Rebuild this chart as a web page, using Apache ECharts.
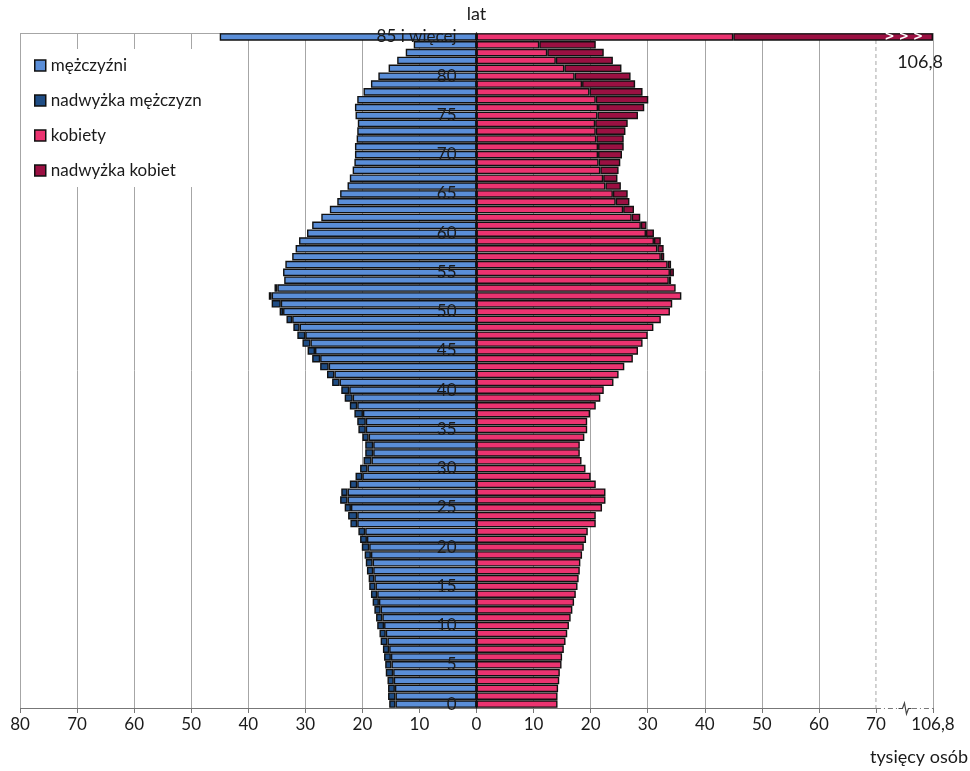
<!DOCTYPE html>
<html><head><meta charset="utf-8">
<script src="https://cdn.jsdelivr.net/npm/echarts@6/dist/echarts.min.js"></script>
<style>html,body{margin:0;padding:0;background:#fff}#c{width:970px;height:771px}</style>
</head><body><div id="c"></div>
<script>
// Age categories (bottom to top)
const ages = ['0','1','2','3','4','5','6','7','8','9','10','11','12','13','14','15','16','17','18','19',
'20','21','22','23','24','25','26','27','28','29','30','31','32','33','34','35','36','37','38','39',
'40','41','42','43','44','45','46','47','48','49','50','51','52','53','54','55','56','57','58','59',
'60','61','62','63','64','65','66','67','68','69','70','71','72','73','74','75','76','77','78','79',
'80','81','82','83','84','85 i więcej'];
// Men, thousands
const men = [15.3,15.5,15.5,15.6,15.9,16.0,16.2,16.4,16.8,17.0,
17.4,17.6,17.9,18.2,18.5,18.8,18.9,19.2,19.4,19.6,
20.1,20.4,20.7,22.1,22.5,23.1,23.9,23.7,22.2,21.2,
20.4,19.8,19.5,19.5,20.0,20.7,20.9,21.4,22.2,23.1,
23.7,25.3,26.2,27.4,28.8,29.6,30.5,31.4,32.1,33.3,
34.5,35.9,36.4,35.4,33.7,33.9,33.5,32.3,31.7,31.1,
29.7,28.8,27.2,25.7,24.4,23.9,22.6,22.2,21.7,21.4,
21.3,21.3,21.0,20.9,20.8,21.2,21.3,20.9,19.8,18.5,
17.2,15.4,13.9,12.4,11.0,45.0];
// Women, thousands
const women = [14.2,14.2,14.3,14.5,14.6,14.9,15.0,15.3,15.6,15.9,
16.2,16.5,16.8,17.1,17.4,17.7,17.9,18.1,18.2,18.5,
18.8,19.2,19.5,20.9,20.9,22.0,22.6,22.6,20.9,20.0,
19.1,18.4,18.1,18.1,18.9,19.4,19.4,19.9,20.9,21.7,
22.3,24.0,24.9,25.9,27.4,28.3,29.1,30.0,31.0,32.3,
33.9,34.3,35.9,34.9,34.1,34.6,34.1,32.9,32.8,32.3,
31.1,29.8,28.7,27.6,26.8,26.5,25.3,24.7,24.9,25.2,
25.5,25.8,25.8,26.1,26.5,28.3,29.4,30.1,29.1,27.8,
27.0,25.4,23.9,22.3,20.9,106.8];
// x-axis tick labels, from -80 to 80 step 10 (right end is the broken-axis maximum)
const xTickLabels = ['80','70','60','50','40','30','20','10','0','10','20','30','40','50','60','70','106,8'];
const legendNames = ['mężczyźni','nadwyżka mężczyzn','kobiety','nadwyżka kobiet'];

const breakStart = 70, breakEnd = 106.8, axisEnd = 80;
const scl = v => v <= breakStart ? v : breakStart + (v - breakStart) * (axisEnd - breakStart) / (breakEnd - breakStart);
const fmt = v => v.toFixed(1).replace('.', ',');

const base = men.map((m, i) => Math.min(m, women[i]));
const menBase = base.map(v => -scl(v));
const menExcess = men.map((m, i) => m > women[i] ? -(scl(m) - scl(base[i])) : null);
const womenBase = base.map(v => scl(v));
const womenExcess = women.map((w, i) => {
  if (w <= men[i]) return null;
  const v = scl(w) - scl(base[i]);
  if (w > breakStart) {
    return {value: v, label: {show: true, position: 'insideRight', distance: 10,
      formatter: '> > >', color: '#fff', fontSize: 12, fontWeight: 'bold', fontFamily: 'DejaVu Sans'}};
  }
  return v;
});

const FONT = 'Lato, "Open Sans", "Noto Sans", sans-serif';
const chart = echarts.init(document.getElementById('c'), null, {renderer: 'canvas'});
const W = 970, H = 771;
const GRID = {left: 20, right: 37, top: 33, bottom: 63, containLabel: false, outerBoundsMode: 'none'};
const zeroOffset = (W - GRID.left - GRID.right) / 2; // distance from grid left to value 0 (symmetric axis)
const common = {type: 'bar', stack: 'pyr', barCategoryGap: '4%',
  itemStyle: {borderColor: '#111', borderWidth: 1.4}};
const splitColors = xTickLabels.map((_, i) => i === 15 ? 'rgba(0,0,0,0)' : '#a6a6a6');

chart.setOption({
  animation: false,
  textStyle: {fontFamily: FONT},
  grid: GRID,
  legend: {
    data: legendNames, orient: 'vertical', left: 30, top: 49,
    icon: 'rect', itemWidth: 11, itemHeight: 11, itemGap: 18,
    backgroundColor: '#fff', padding: [8, 28, 8, 4],
    itemStyle: {borderColor: '#111', borderWidth: 1.5},
    textStyle: {fontSize: 17, color: '#1a1a1a', fontFamily: FONT}
  },
  xAxis: {
    type: 'value', min: -80, max: 80, interval: 10,
    axisLine: {show: false},
    axisTick: {show: true, length: 5, lineStyle: {color: '#777'}},
    axisLabel: {fontSize: 17, color: '#1a1a1a', margin: 8,
      formatter: v => xTickLabels[Math.round((v + 80) / 10)]},
    splitLine: {show: true, lineStyle: {color: splitColors, width: 1}}
  },
  yAxis: {
    type: 'category', data: ages, z: 10, position: 'left', offset: -zeroOffset,
    name: 'lat', nameLocation: 'end', nameGap: 10,
    nameTextStyle: {fontSize: 18, color: '#1a1a1a', align: 'center', verticalAlign: 'bottom'},
    axisLine: {show: true, onZero: false, lineStyle: {color: '#111', width: 1.4}},
    axisTick: {show: false},
    axisLabel: {fontSize: 17, color: '#1a1a1a', margin: 20,
      interval: (i) => i % 5 === 0 || i === ages.length - 1},
    splitLine: {show: false}
  },
  series: [
    Object.assign({}, common, {name: legendNames[0], data: menBase, itemStyle: Object.assign({}, common.itemStyle, {color: '#5a8ed8'})}),
    Object.assign({}, common, {name: legendNames[1], data: menExcess, itemStyle: Object.assign({}, common.itemStyle, {color: '#1f4d85'})}),
    Object.assign({}, common, {name: legendNames[2], data: womenBase, itemStyle: Object.assign({}, common.itemStyle, {color: '#eb3370'})}),
    Object.assign({}, common, {name: legendNames[3], data: womenExcess, itemStyle: Object.assign({}, common.itemStyle, {color: '#9b1042'})})
  ]
});

// Decorations: frame top, broken axis, value label
const px = v => chart.convertToPixel({xAxisIndex: 0}, v);
const yTop = GRID.top, yBot = H - GRID.bottom;
const xb = px(scl(breakStart)), xe = px(axisEnd), xs = px(-80);
const xm = (xb + xe) / 2;
const topIdx = ages.length - 1;
const yTopBar = chart.convertToPixel({yAxisIndex: 0}, ages[topIdx]);
chart.setOption({graphic: [
  {type: 'line', z: 1, shape: {x1: xs, y1: yTop + 0.5, x2: xe, y2: yTop + 0.5}, style: {stroke: '#a6a6a6', lineWidth: 1}},
  {type: 'line', z: 1, shape: {x1: xb, y1: yTop, x2: xb, y2: yBot}, style: {stroke: '#a6a6a6', lineWidth: 1, lineDash: [4, 3]}},
  {type: 'line', z: 5, shape: {x1: xs, y1: yBot + 0.5, x2: xb, y2: yBot + 0.5}, style: {stroke: '#777', lineWidth: 1}},
  {type: 'line', z: 5, shape: {x1: xb, y1: yBot + 0.5, x2: xe, y2: yBot + 0.5}, style: {stroke: '#777', lineWidth: 1, lineDash: [5, 3, 1, 3]}},
  {type: 'rect', z: 6, shape: {x: xm - 5, y: yBot - 3, width: 10, height: 7}, style: {fill: '#fff'}},
  {type: 'polyline', z: 7, shape: {points: [[xm - 6, yBot + 0.5], [xm - 2, yBot + 0.5], [xm, yBot - 5], [xm + 2, yBot + 6], [xm + 4, yBot + 0.5], [xm + 7, yBot + 0.5]]},
    style: {stroke: '#444', lineWidth: 1.2, fill: null}},
  {type: 'text', z: 20, x: xe + 10, y: yTopBar + 25, style: {text: fmt(women[topIdx]), fontSize: 18, fill: '#1a1a1a', fontFamily: FONT, align: 'right', verticalAlign: 'middle'}},
  {type: 'text', z: 20, x: 968, y: 757, style: {text: 'tysięcy osób', fontSize: 18, fill: '#1a1a1a', fontFamily: FONT, align: 'right', verticalAlign: 'middle'}}
]});
</script>
</body></html>
